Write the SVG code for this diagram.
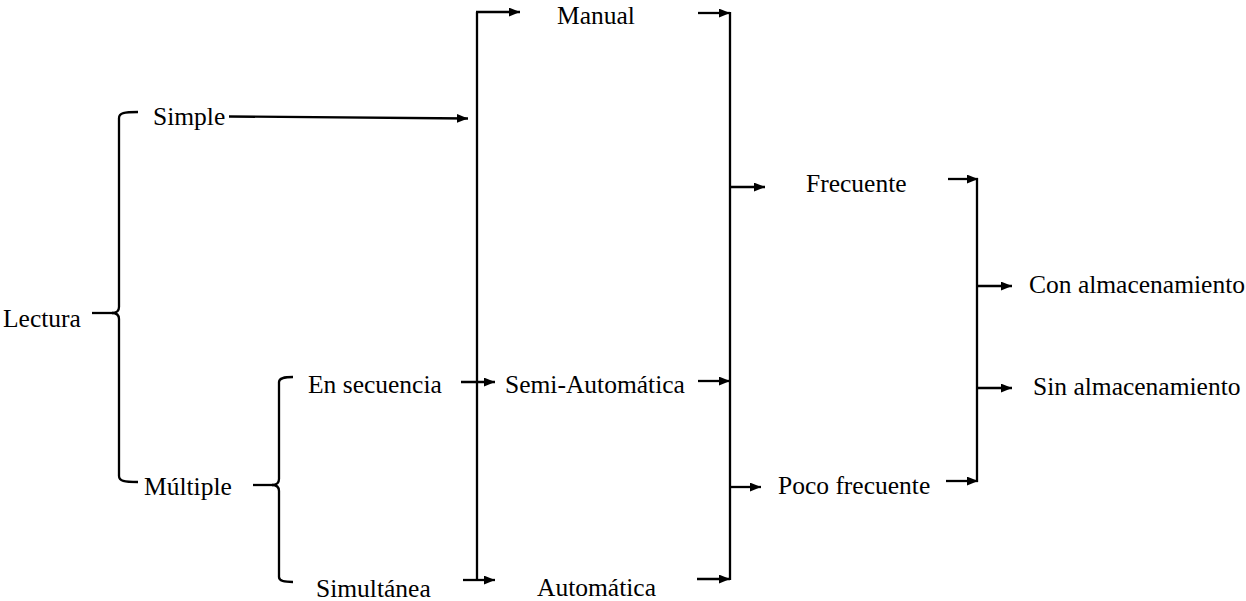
<svg xmlns="http://www.w3.org/2000/svg" width="1246" height="601" viewBox="0 0 1246 601">
<style>
text{font-family:"Liberation Serif","Times New Roman",serif;font-size:25.5px;fill:#000}
.ln{stroke:#000;stroke-width:2.3;fill:none}
.ar{stroke:#000;stroke-width:2.3;fill:none;marker-end:url(#ah)}
</style>
<defs>
<marker id="ah" viewBox="0 0 10 8" refX="10" refY="4" markerWidth="11" markerHeight="9" markerUnits="userSpaceOnUse" orient="auto">
<path d="M0,0 L10,4 L0,8 z" fill="#000"/>
</marker>
</defs>
<g id="lectura"><text x="3" y="327">Lectura</text></g>
<g id="simple"><text x="153" y="125">Simple</text></g>
<g id="multiple"><text x="144" y="495">Múltiple</text></g>
<g id="en-secuencia"><text x="308" y="393">En secuencia</text></g>
<g id="simultanea"><text x="316" y="597">Simultánea</text></g>
<g id="manual"><text x="557" y="24">Manual</text></g>
<g id="semi-automatica"><text x="505" y="393">Semi-Automática</text></g>
<g id="automatica"><text x="537" y="596">Automática</text></g>
<g id="frecuente"><text x="806" y="192">Frecuente</text></g>
<g id="poco-frecuente"><text x="778" y="494">Poco frecuente</text></g>
<g id="con-almacenamiento"><text x="1029" y="293">Con almacenamiento</text></g>
<g id="sin-almacenamiento"><text x="1033" y="395">Sin almacenamiento</text></g>
<g id="connectors">
<!-- brace Lectura -->
<path class="ln" d="M92,313 L113,313"/>
<path class="ln" d="M138,112 C124,112 119,113 119,118 L119,307 C119,311 117,313 112,313 C117,313 119,315 119,319 L119,476 C119,481 124,482 138,482"/>
<!-- brace Multiple -->
<path class="ln" d="M253,485 L273,485"/>
<path class="ln" d="M293,377 C284,377 279,378 279,382 L279,479 C279,483 277,485 272,485 C277,485 279,487 279,491 L279,577 C279,581 284,582 293,582"/>
<!-- Simple arrow -->
<path class="ar" d="M229,116.5 L468,118.5"/>
<!-- bracket 1 -->
<path class="ln" d="M477,580 L477,12"/>
<path class="ar" d="M476,12 L520,12"/>
<path class="ar" d="M461,382 L495,382"/>
<path class="ar" d="M463,580 L495,580"/>
<!-- bracket 2 -->
<path class="ln" d="M730,12 L730,580"/>
<path class="ar" d="M698,13 L730,13"/>
<path class="ar" d="M698,381 L730,381"/>
<path class="ar" d="M697,579 L730,579"/>
<path class="ar" d="M730,187 L765,187"/>
<path class="ar" d="M730,487 L761,487"/>
<!-- bracket 3 -->
<path class="ln" d="M977,178 L977,482"/>
<path class="ar" d="M948,179 L978,179"/>
<path class="ar" d="M946,481 L978,481"/>
<path class="ar" d="M977,286 L1012,286"/>
<path class="ar" d="M977,388 L1012,388"/>
</g>
</svg>
